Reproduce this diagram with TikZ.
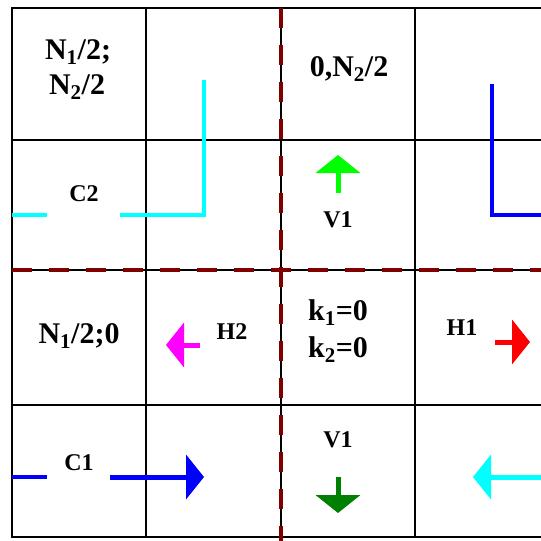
\documentclass[tikz,border=0pt]{standalone}
\usepackage{fontspec}
\setmainfont{Liberation Serif}
\usetikzlibrary{arrows.meta}
\definecolor{splitred}{HTML}{800000}
\definecolor{waveaqua}{HTML}{00FFFF}
\definecolor{waveblue}{HTML}{0000FF}
\definecolor{wavelime}{HTML}{00FF00}
\definecolor{wavegreen}{HTML}{008000}
\definecolor{wavepink}{HTML}{FF00FF}
\definecolor{wavered}{HTML}{FF0000}

\begin{document}
\begin{tikzpicture}[
  x=1pt, y=-1pt,
  cellline/.style={draw=black, line width=2pt},
  split/.style={draw=splitred, line width=4.5pt, dash pattern=on 20pt off 17pt},
  kpoint/.style={font=\fontsize{30}{36}\selectfont\bfseries, anchor=base, inner sep=0pt},
  tag/.style={font=\fontsize{24}{28}\selectfont\bfseries, anchor=base, inner sep=0pt},
  route/.style={line width=4pt},
  flow/.style={line width=5pt, -{Triangle[length=18pt, width=44pt]}}
]
  \useasboundingbox (0,0) rectangle (541,541);
  \clip (0,0) rectangle (541,541);

  % cells
  \foreach \x in {12,146,281,415}
    \draw[cellline] (\x,8) -- (\x,537);
  \foreach \y in {8,140,270,405,537}
    \draw[cellline] (11,\y) -- (560,\y);

  % zone borders
  \draw[split] (281,8) -- (281,545);
  \draw[split] (12,270) -- (545,270);

  % special points
  \node[kpoint] (cornerA) at (78,59) {N\textsubscript{1}/2;};
  \node[kpoint] (cornerB) at (77,94) {N\textsubscript{2}/2};
  \node[kpoint] (edgeY) at (349,76) {0,N\textsubscript{2}/2};
  \node[kpoint] (edgeX) at (79,343) {N\textsubscript{1}/2;0};
  \node[kpoint] (originA) at (338,320) {k\textsubscript{1}=0};
  \node[kpoint] (originB) at (338,357) {k\textsubscript{2}=0};

  % mode labels
  \node[tag] (c2) at (84,201) {C2};
  \node[tag] (v1up) at (338,227) {V1};
  \node[tag] (h2) at (232,339) {H2};
  \node[tag] (h1) at (462,335) {H1};
  \node[tag] (c1) at (79,470) {C1};
  \node[tag] (v1dn) at (338,447) {V1};

  % paths
  \draw[route, waveaqua] (12,215) -- (47,215);
  \draw[route, waveaqua] (120,215) -- (204,215) -- (204,80);
  \draw[route, waveblue] (492,84) -- (492,215) -- (545,215);

  % arrows
  \draw[flow, wavelime] (338,193) -- (338,155);
  \draw[flow, wavepink] (200,345) -- (166,345);
  \draw[flow, wavered] (495,342) -- (530,342);
  \draw[flow, wavegreen] (338,477) -- (338,513);
  \draw[route, waveblue] (12,477) -- (47,477);
  \draw[flow, waveblue] (110,477) -- (204,477);
  \draw[flow, waveaqua] (545,477) -- (473,477);
\end{tikzpicture}
\end{document}
